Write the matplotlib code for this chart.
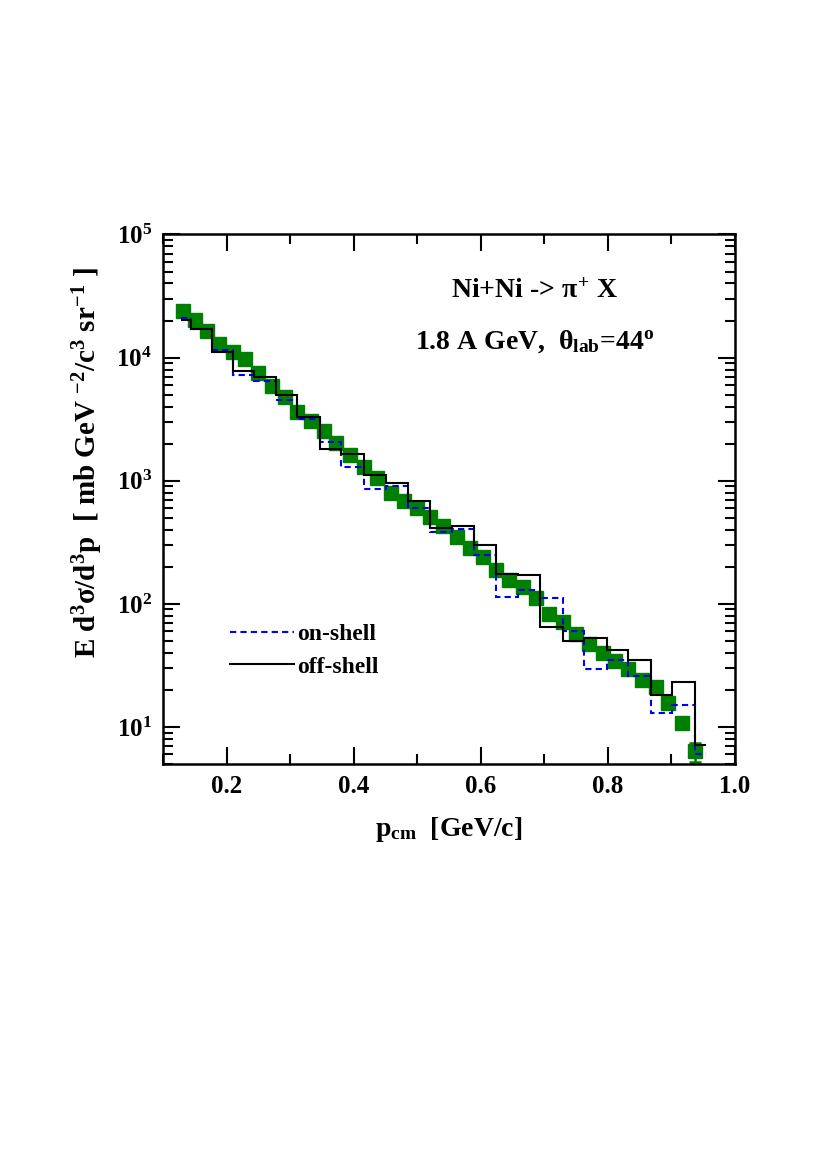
import numpy as np
import matplotlib
matplotlib.use("Agg")
import matplotlib.pyplot as plt
from matplotlib.ticker import FixedLocator, NullFormatter

plt.rcParams['font.family'] = ['Liberation Serif', 'DejaVu Serif']
plt.rcParams['font.weight'] = 'bold'
plt.rcParams['axes.labelweight'] = 'bold'
plt.rcParams['mathtext.fontset'] = 'custom'
plt.rcParams['mathtext.rm'] = 'Liberation Serif:bold'
plt.rcParams['mathtext.it'] = 'Liberation Serif:bold'
plt.rcParams['mathtext.bf'] = 'Liberation Serif:bold'

# measured points (green squares)
data_p = [0.132, 0.150, 0.169, 0.188, 0.2095, 0.229, 0.250, 0.271, 0.292, 0.3115,
          0.3335, 0.353, 0.373, 0.395, 0.416, 0.437, 0.458, 0.479, 0.4995, 0.520,
          0.541, 0.562, 0.583, 0.604, 0.624, 0.645, 0.666, 0.687, 0.708, 0.729,
          0.750, 0.771, 0.792, 0.8115, 0.832, 0.853, 0.8755, 0.895, 0.916, 0.937]
data_y = [24100, 20200, 16600, 12900, 11200, 9820, 7560, 5890, 4820, 3650,
          3030, 2550, 2010, 1620, 1300, 1050, 802, 691, 600, 506,
          430, 348, 284, 240, 190, 157, 137, 111, 83.2, 70.6,
          57.1, 47.4, 39.9, 34.5, 29.6, 24.2, 21.1, 15.7, 10.8, 6.34]
data_err_lo = [0.0] * 39 + [1.15]
data_err_hi = [0.0] * 39 + [1.1]

# transport calculation histograms
bin_edges = [0.128, 0.1435, 0.1765, 0.2095, 0.2434, 0.2786, 0.3115, 0.3466, 0.3807,
             0.4157, 0.4513, 0.4853, 0.5204, 0.555, 0.590, 0.624, 0.659, 0.693,
             0.729, 0.763, 0.798, 0.832, 0.8675, 0.9015, 0.937, 0.955]
off_shell = [20200, 17100, 11200, 7850, 7010, 4980, 3320, 1820, 1650, 1117, 955,
             691, 412, 425, 298, 175, 172, 64.9, 49.5, 53.3, 41.9, 34.8, 18.1, 23.0, 7.1]
on_shell = [21100, 17100, 11550, 7190, 6500, 4540, 3160, 2070, 1290, 855, 914,
            600, 380, 405, 249, 113.5, 130, 111, 59.7, 29.6, 35.2, 26.1, 13.0, 15.0, 6.04]

fig = plt.figure(figsize=(8.17, 11.76), dpi=100)
ax = fig.add_axes([0.1995, 0.3503, 0.7001, 0.4503])

ax.errorbar(data_p, data_y, yerr=[data_err_lo, data_err_hi], fmt='s', color='#008000',
            markersize=9.8, elinewidth=1.8, capsize=4.2, capthick=1.8, zorder=2)
ax.stairs(on_shell, bin_edges, baseline=None, color='#0000ee', linestyle=(0, (3, 2)),
          linewidth=1.5, zorder=3, label='on-shell')
ax.stairs(off_shell, bin_edges, baseline=None, color='black', linewidth=1.5,
          zorder=4, label='off-shell')

ax.set_yscale('log')
ax.set_xlim(0.1, 1.0)
ax.set_ylim(5, 1e5)

ax.xaxis.set_major_locator(FixedLocator([0.2, 0.4, 0.6, 0.8, 1.0]))
ax.xaxis.set_minor_locator(FixedLocator([0.1, 0.3, 0.5, 0.7, 0.9]))
ax.set_xticklabels(['0.2', '0.4', '0.6', '0.8', '1.0'])
ax.yaxis.set_major_locator(FixedLocator([1e1, 1e2, 1e3, 1e4, 1e5]))
ax.set_yticklabels([r'$10^{1}$', r'$10^{2}$', r'$10^{3}$', r'$10^{4}$', r'$10^{5}$'])
minors = [m * 10.0 ** e for e in range(0, 5) for m in range(2, 10)]
ax.yaxis.set_minor_locator(FixedLocator(minors))
ax.yaxis.set_minor_formatter(NullFormatter())

ax.tick_params(which='both', direction='in', top=True, right=True, width=1.5,
               labelsize=18, pad=8)
ax.tick_params(which='major', length=12)
ax.tick_params(which='minor', length=7)
for s in ax.spines.values():
    s.set_linewidth(1.8)

ax.set_xlabel(r'p$_{\rm cm}$  [GeV/c]', fontsize=20, labelpad=12)
# y title sits above the axis centre, as in the original
fig.text(88 / 817, 1 - 463 / 1176,
         r'E d$^{3}$$\sigma$/d$^{3}$p  [ mb GeV $^{-2}$/c$^{3}$ sr$^{-1}$ ]',
         rotation=90, ha='center', va='center', fontsize=21, fontweight='bold')

ax.text(0.65, 0.893, r'Ni+Ni -> $\pi^{+}$ X', transform=ax.transAxes,
        ha='center', va='center', fontsize=20)
ax.text(0.65, 0.797, r'1.8 A GeV,  $\theta_{\rm lab}$=44$^{\rm o}$', transform=ax.transAxes,
        ha='center', va='center', fontsize=20)

ax.legend(loc='center left', bbox_to_anchor=(0.117, 0.214), frameon=False,
          fontsize=17, handlelength=2.7, handletextpad=0.15, labelspacing=0.45,
          borderpad=0, borderaxespad=0)

fig.savefig('out.png', dpi=100)
